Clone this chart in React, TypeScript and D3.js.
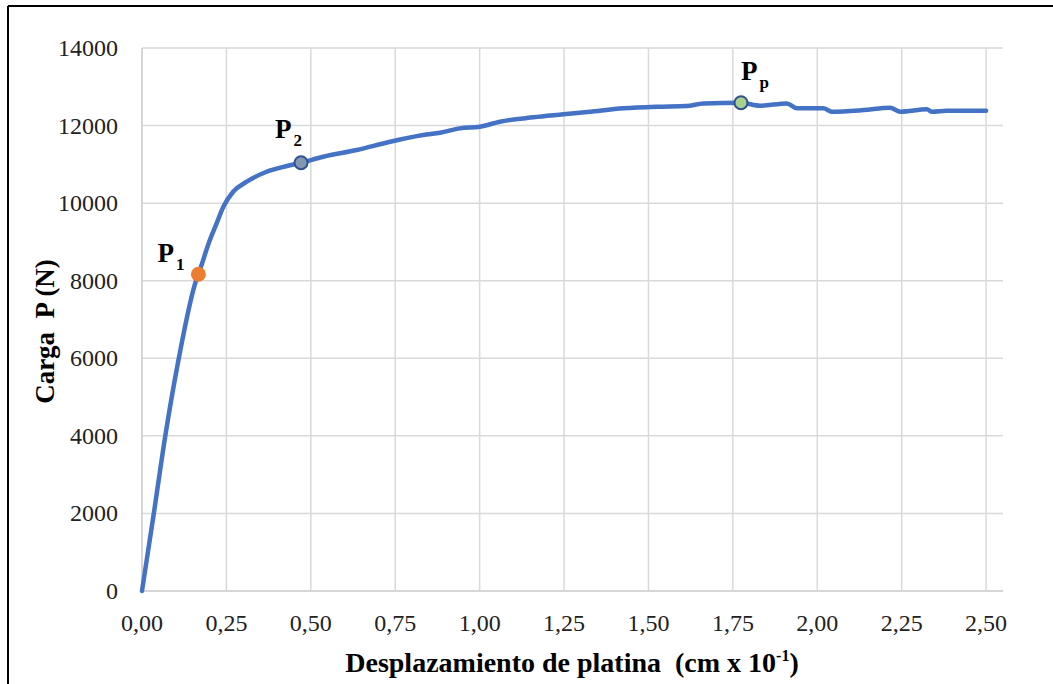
import { useMemo } from "react";
import * as d3 from "d3";

const W = 1053;
const H = 684;
const PLOT = { left: 142, right: 1003, top: 48, bottom: 591 };
const FONT = "'Liberation Serif', 'Times New Roman', serif";

// desplazamiento (cm x 10^-1) y carga (N)
const desplazamiento = [
  0, 0.035, 0.069, 0.109, 0.16, 0.167, 0.201, 0.221, 0.241, 0.27, 0.31, 0.369,
  0.429, 0.471, 0.537, 0.636, 0.735, 0.833, 0.883, 0.942, 1.001, 1.06, 1.159,
  1.248, 1.327, 1.426, 1.524, 1.613, 1.663, 1.774, 1.831, 1.91, 1.94, 2.018,
  2.043, 2.137, 2.216, 2.246, 2.325, 2.34, 2.384, 2.5,
];
const carga = [
  0, 2000, 4000, 6000, 8000, 8165, 9049, 9478, 9907, 10294, 10552, 10810,
  10957, 11042, 11197, 11369, 11584, 11756, 11816, 11928, 11970, 12099, 12212,
  12289, 12357, 12444, 12485, 12503, 12572, 12589, 12511, 12572, 12444, 12444,
  12357, 12400, 12460, 12357, 12418, 12357, 12383, 12383,
];

const xTicks = [0, 0.25, 0.5, 0.75, 1, 1.25, 1.5, 1.75, 2, 2.25, 2.5];
const yTicks = [0, 2000, 4000, 6000, 8000, 10000, 12000, 14000];

// puntos notables: P1, P2, Pp
const puntosNombre = ["1", "2", "p"];
const puntosX = [0.167, 0.471, 1.774];
const puntosY = [8165, 11042, 12589];
const puntosFill = ["#ed7d31", "#8497b0", "#a9d18e"];
const puntosStroke = ["none", "#2f528f", "#2f528f"];

export default function App() {
  const xScale = useMemo(
    () => d3.scaleLinear().domain([0, 2.55]).range([PLOT.left, PLOT.right]),
    []
  );
  const yScale = useMemo(
    () => d3.scaleLinear().domain([0, 14000]).range([PLOT.bottom, PLOT.top]),
    []
  );

  const linePath = d3
    .line<number>()
    .x((_, i) => xScale(desplazamiento[i]))
    .y((d) => yScale(d))
    .curve(d3.curveMonotoneX)(carga);

  const fmtX = (v: number) => v.toFixed(2).replace(".", ",");

  return (
    <svg
      width={W}
      height={H}
      style={{ position: "fixed", left: 0, top: 0, background: "#fff" }}
      fontFamily={FONT}
    >
      {/* marco */}
      <line x1={8} y1={6} x2={W} y2={6} stroke="#000" strokeWidth={2} />
      <line x1={8} y1={6} x2={8} y2={H} stroke="#000" strokeWidth={2} />

      {/* rejilla */}
      {yTicks.map((t) => (
        <line
          key={"gy" + t}
          x1={PLOT.left}
          x2={PLOT.right}
          y1={yScale(t)}
          y2={yScale(t)}
          stroke={t === 0 ? "#c8c8c8" : "#d9d9d9"}
          strokeWidth={1.5}
        />
      ))}
      {xTicks.map((t) => (
        <line
          key={"gx" + t}
          x1={xScale(t)}
          x2={xScale(t)}
          y1={PLOT.top}
          y2={PLOT.bottom}
          stroke={t === 0 ? "#c8c8c8" : "#d9d9d9"}
          strokeWidth={1.5}
        />
      ))}

      {/* etiquetas de ejes */}
      {yTicks.map((t) => (
        <text
          key={"ty" + t}
          x={118}
          y={yScale(t)}
          textAnchor="end"
          dominantBaseline="central"
          fontSize={24}
          fill="#222"
        >
          {t}
        </text>
      ))}
      {xTicks.map((t) => (
        <text
          key={"tx" + t}
          x={xScale(t)}
          y={631}
          textAnchor="middle"
          fontSize={24}
          fill="#222"
        >
          {fmtX(t)}
        </text>
      ))}

      {/* curva */}
      <path
        d={linePath ?? ""}
        fill="none"
        stroke="#4472c4"
        strokeWidth={4.5}
        strokeLinejoin="round"
        strokeLinecap="round"
      />

      {/* puntos notables */}
      {puntosNombre.map((n, i) => (
        <circle
          key={"p" + n}
          cx={xScale(puntosX[i])}
          cy={yScale(puntosY[i])}
          r={i === 0 ? 7.5 : 6.5}
          fill={puntosFill[i]}
          stroke={puntosStroke[i]}
          strokeWidth={2}
        />
      ))}
      {puntosNombre.map((n, i) => {
        const cx = xScale(puntosX[i]);
        const cy = yScale(puntosY[i]);
        const dx = i === 0 ? -41 : i === 1 ? -26 : 0;
        const dy = i === 0 ? -12 : i === 1 ? -25 : -23;
        return (
          <text
            key={"l" + n}
            x={cx + dx}
            y={cy + dy}
            fontSize={27}
            fontWeight="bold"
            fill="#000"
          >
            P
            <tspan dx={2} dy={8} fontSize={17}>
              {n}
            </tspan>
          </text>
        );
      })}

      {/* titulos */}
      <text
        transform={`translate(54, ${(PLOT.top + PLOT.bottom) / 2 + 12}) rotate(-90)`}
        textAnchor="middle"
        fontSize={27}
        fontWeight="bold"
        fill="#000"
        style={{ whiteSpace: "pre" }}
      >
        {"Carga  P (N)"}
      </text>
      <text
        x={(PLOT.left + 986) / 2 + 8}
        y={672}
        textAnchor="middle"
        fontSize={28}
        fontWeight="bold"
        fill="#000"
        style={{ whiteSpace: "pre" }}
      >
        {"Desplazamiento de platina  (cm x 10"}
        <tspan dy={-11} fontSize={16}>
          -1
        </tspan>
        <tspan dy={11}>)</tspan>
      </text>
    </svg>
  );
}
